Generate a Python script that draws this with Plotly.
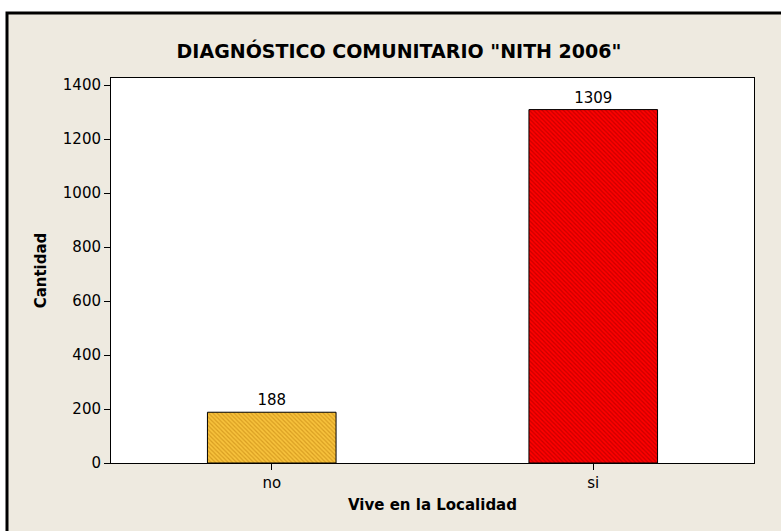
import plotly.graph_objects as go

categories = ["no", "si"]
values = [188, 1309]
bar_colors = ["#F7C23C", "#FF0000"]
hatch_colors = ["#D99E22", "#C80000"]
y_ticks = [0, 200, 400, 600, 800, 1000, 1200, 1400]

FONT = "DejaVu Sans, Verdana, sans-serif"

L, R, T, B = 111, 27, 78, 68
W, H = 781, 531
pw, ph = W - L - R, H - T - B

def px_x(p):
    return (p - L) / pw

def px_y(p):
    return (H - B - p) / ph

fig = go.Figure()
for cat, val, col, hcol in zip(categories, values, bar_colors, hatch_colors):
    fig.add_trace(go.Bar(
        x=[cat], y=[val],
        width=0.4,
        marker=dict(
            color=col,
            line=dict(color="black", width=1),
            pattern=dict(shape="\\", size=3, solidity=0.4,
                         fgcolor=hcol, bgcolor=col, fillmode="replace"),
        ),
        text=[str(val)],
        textposition="outside",
        textfont=dict(family=FONT, size=15, color="black"),
        cliponaxis=False,
        showlegend=False,
    ))

fig.update_layout(
    width=W, height=H,
    barmode="overlay",
    margin=dict(l=L, r=R, t=T, b=B, autoexpand=False),
    paper_bgcolor="white",
    plot_bgcolor="white",
    font=dict(family=FONT, size=15, color="black"),
    title=dict(text='<b>DIAGNÓSTICO COMUNITARIO "NITH 2006"</b>',
               x=399 / W, xanchor="center", xref="container",
               y=1 - 51 / H, yanchor="middle", yref="container",
               font=dict(family=FONT, size=19, color="black")),
    shapes=[
        dict(type="rect", xref="paper", yref="paper", layer="below",
             x0=px_x(7), x1=px_x(790), y0=px_y(545), y1=px_y(13),
             fillcolor="#EEEAE0", line=dict(color="black", width=3)),
        dict(type="rect", xref="paper", yref="paper", layer="below",
             x0=0, x1=1, y0=0, y1=1,
             fillcolor="white", line=dict(width=0)),
    ],
)

fig.update_xaxes(
    range=[-0.5, 1.5],
    showline=True, linecolor="black", linewidth=1, mirror=True,
    ticks="outside", ticklen=6, tickcolor="black",
    showgrid=False,
    tickfont=dict(size=15),
    title=dict(text="<b>Vive en la Localidad</b>", standoff=8,
               font=dict(size=15)),
)
fig.update_yaxes(
    range=[0, 1426],
    tickvals=y_ticks,
    showline=True, linecolor="black", linewidth=1, mirror=True,
    ticks="outside", ticklen=6, tickcolor="black",
    showgrid=False, zeroline=False,
    tickfont=dict(size=15),
    title=dict(text="<b>Cantidad</b>", standoff=12,
               font=dict(size=15)),
)

fig.write_html(
    "out.html",
    config={"displayModeBar": False},
    post_script="document.body.style.margin='0';document.body.style.padding='0';",
)
